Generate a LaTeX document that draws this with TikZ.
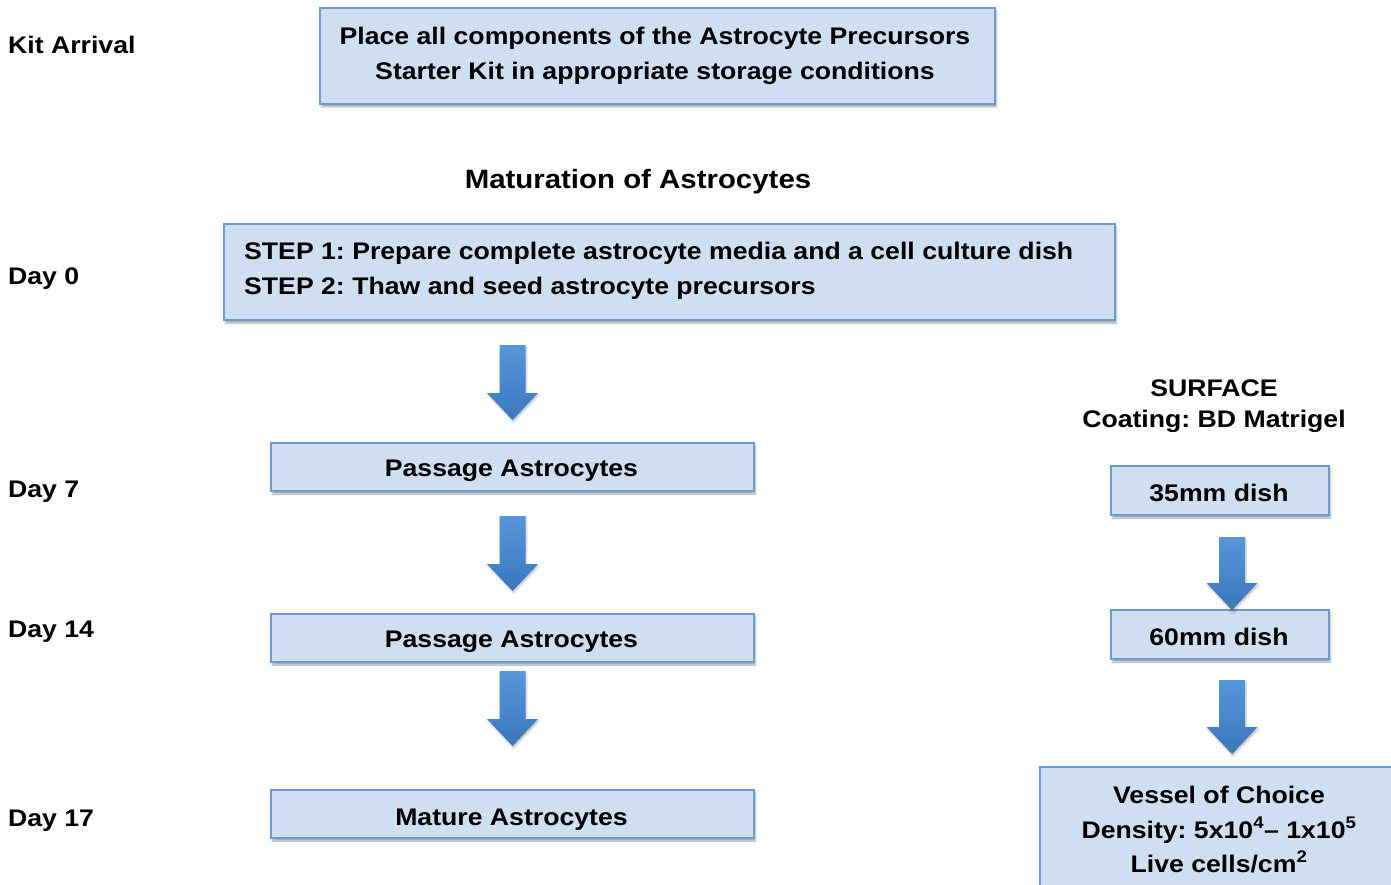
\documentclass[tikz,border=0pt]{standalone}
\usepackage{fontspec}
\setmainfont{Liberation Sans}[FakeStretch=1.11]
\usetikzlibrary{shadows.blur}
\definecolor{boxfill}{HTML}{CFDEF0}
\definecolor{boxline}{HTML}{6C9BD2}
\definecolor{arrtop}{HTML}{5597DA}
\definecolor{arrbot}{HTML}{3A77BC}
\tikzset{
  lbl/.style={font=\fontsize{24}{34}\selectfont\bfseries\frenchspacing, inner sep=0pt, anchor=base},
  daylbl/.style={lbl, anchor=base west},
  stepbox/.style={draw=boxline, line width=1.2pt, fill=boxfill, inner sep=0pt,
    blur shadow={shadow xshift=1.5pt, shadow yshift=-3pt, shadow blur steps=4, shadow blur radius=2pt, shadow opacity=35}},
  blockarrow/.style={top color=arrtop, bottom color=arrbot, draw=none,
    blur shadow={shadow xshift=1pt, shadow yshift=-2pt, shadow blur steps=4, shadow blur radius=2pt, shadow opacity=25}}
}
\newcommand{\blkarrow}[3]{%
  \path[blockarrow] (#1-13,#2) -- (#1+13,#2) -- (#1+13,#3-27) -- (#1+25.5,#3-27) -- (#1,#3) -- (#1-25.5,#3-27) -- (#1-13,#3-27) -- cycle;}
\begin{document}
\begin{tikzpicture}[x=1pt,y=-1pt]
\useasboundingbox (0,0) rectangle (1391,885);
\clip (0,0) rectangle (1391,885);
% left labels
\node[daylbl] (kit) at (8,54) {Kit Arrival};
\node[daylbl] (d0) at (8,284) {Day 0};
\node[daylbl] (d7) at (8,497) {Day 7};
\node[daylbl] (d14) at (8,637) {Day 14};
\node[daylbl] (d17) at (8,826) {Day 17};
% top box
\node[stepbox, minimum width=675pt, minimum height=96pt] (place) at (657.5,56) {};
\node[lbl] (place1) at (655,45) {Place all components of the Astrocyte Precursors};
\node[lbl] (place2) at (655,80) {Starter Kit in appropriate storage conditions};
\node[lbl, font=\fontsize{26.5}{32}\selectfont\bfseries] (mat) at (638,189) {Maturation of Astrocytes};
% day 0 box
\node[stepbox, minimum width=891pt, minimum height=96pt] (step) at (669.5,272) {};
\node[lbl, anchor=base west] (step1) at (244,259) {STEP 1: Prepare complete astrocyte media and a cell culture dish};
\node[lbl, anchor=base west] (step2) at (244,294) {STEP 2: Thaw and seed astrocyte precursors};
% passage boxes
\node[stepbox, minimum width=483pt, minimum height=48pt] (pass1) at (512.5,467) {};
\node[lbl] (pass1t) at (511.5,476) {Passage Astrocytes};
\node[stepbox, minimum width=483pt, minimum height=48pt] (pass2) at (512.5,638) {};
\node[lbl] (pass2t) at (511.5,647) {Passage Astrocytes};
\node[stepbox, minimum width=483pt, minimum height=48pt] (mature) at (512.5,814) {};
\node[lbl] (maturet) at (511.5,825) {Mature Astrocytes};
% right column
\node[lbl] (surf) at (1214,396) {SURFACE};
\node[lbl] (coat) at (1214,427) {Coating: BD Matrigel};
\node[stepbox, minimum width=218pt, minimum height=49pt] (d35) at (1220,490.5) {};
\node[lbl] (d35t) at (1219,501) {35mm dish};
\node[stepbox, minimum width=218pt, minimum height=49pt] (d60) at (1220,634.5) {};
\node[lbl] (d60t) at (1219,645) {60mm dish};
\node[stepbox, minimum width=360pt, minimum height=124pt] (vessel) at (1220,829) {};
\node[lbl] (v1) at (1219,803) {Vessel of Choice};
\node[lbl] (v2) at (1219,838) {Density: 5x10\textsuperscript{4}– 1x10\textsuperscript{5}};
\node[lbl] (v3) at (1219,872) {Live cells/cm\textsuperscript{2}};
% block arrows
\blkarrow{512.5}{345}{420}
\blkarrow{512.5}{516}{591}
\blkarrow{512.5}{671}{746}
\blkarrow{1232}{537}{610}
\blkarrow{1232}{680}{754}
\end{tikzpicture}
\end{document}
